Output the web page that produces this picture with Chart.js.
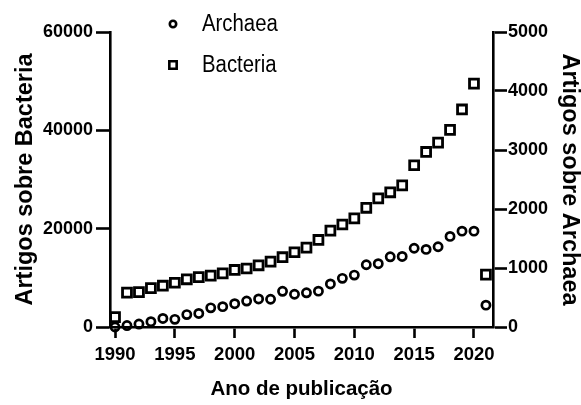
<!DOCTYPE html>
<html>
<head>
<meta charset="utf-8">
<script src="https://cdn.jsdelivr.net/npm/chart.js@4/dist/chart.umd.min.js"></script>
<style>
html,body{margin:0;padding:0;background:#fff;}
#wrap{position:relative;width:581px;height:405px;}
</style>
</head>
<body>
<div id="wrap"><canvas id="c" width="581" height="405"></canvas></div>
<script>
const years = [1990,1991,1992,1993,1994,1995,1996,1997,1998,1999,2000,2001,2002,2003,2004,2005,2006,2007,2008,2009,2010,2011,2012,2013,2014,2015,2016,2017,2018,2019,2020,2021];
const archaea = [0,25,50,90,145,130,210,230,325,345,395,440,475,470,605,555,580,608,730,825,880,1055,1073,1190,1196,1335,1315,1360,1536,1625,1625,370];
const bacteria = [2000,7000,7100,7900,8400,9000,9700,10150,10450,10900,11600,11900,12550,13300,14200,15200,16150,17700,19600,20850,22100,24250,26150,27400,28800,32900,35600,37500,40100,44250,49500,10650];
const xTicks = [1990,1995,2000,2005,2010,2015,2020];
const leftTicks = [0,20000,40000,60000];
const rightTicks = [0,1000,2000,3000,4000,5000];
const seriesLabels = ['Archaea','Bacteria'];
const axisTitles = {x:'Ano de publicação', left:'Artigos sobre Bacteria', right:'Artigos sobre Archaea'};

const FONT = "'Liberation Sans', Arial, sans-serif";
const AXW = 2.6;

const legendPlugin = {
  id: 'insetLegend',
  afterDraw(chart) {
    const ctx = chart.ctx;
    ctx.save();
    const legendMarkers = [{radius: 3.2, borderWidth: 2.6}, {radius: 5.2, borderWidth: 2.6}];
    chart.data.datasets.forEach((ds, i) => {
      const x = 173, y = 24 + i * 41;
      ctx.strokeStyle = '#000';
      ctx.fillStyle = 'rgba(0,0,0,0)';
      ctx.lineWidth = legendMarkers[i].borderWidth;
      Chart.helpers.drawPoint(ctx, {pointStyle: ds.pointStyle, radius: legendMarkers[i].radius, borderWidth: legendMarkers[i].borderWidth, rotation: 0}, x, y);
      ctx.save();
      ctx.translate(202, y + 1);
      ctx.scale(0.885, 1);
      ctx.fillStyle = '#000';
      ctx.font = "23px " + FONT;
      ctx.textBaseline = 'middle';
      ctx.textAlign = 'left';
      ctx.fillText(ds.label, 0, 0);
      ctx.restore();
    });
    ctx.restore();
  }
};

const pts = (arr) => years.map((y, i) => ({x: y, y: arr[i]}));

new Chart(document.getElementById('c'), {
  type: 'scatter',
  data: {
    datasets: [
      {label: seriesLabels[0], data: pts(archaea), yAxisID: 'yR', pointStyle: 'circle', pointRadius: 4.1, borderWidth: 2.7, borderColor: '#000', backgroundColor: 'rgba(0,0,0,0)', clip: false},
      {label: seriesLabels[1], data: pts(bacteria), yAxisID: 'yL', pointStyle: 'rect', pointRadius: 6.3, borderWidth: 2.8, borderColor: '#000', backgroundColor: 'rgba(0,0,0,0)', clip: false}
    ]
  },
  options: {
    responsive: false,
    animation: false,
    devicePixelRatio: 1,
    layout: {padding: {top: 32, left: 0, right: 0, bottom: 0}},
    plugins: {legend: {display: false}, tooltip: {enabled: false}},
    elements: {point: {hoverRadius: 5}},
    scales: {
      x: {
        type: 'linear', position: 'bottom', min: 1989.58, max: 2021.59,
        afterBuildTicks: (s) => { s.ticks = xTicks.map(v => ({value: v})); },
        afterFit: (s) => { s.height = 78; },
        grid: {display: true, drawOnChartArea: false, drawTicks: true, tickLength: 11, tickColor: '#000', tickWidth: AXW},
        border: {display: true, color: '#000', width: AXW},
        ticks: {color: '#000', padding: 6, maxRotation: 0, font: {family: FONT, size: 18.5, weight: 'bold'}, callback: (v) => String(v)},
        title: {display: true, text: axisTitles.x, color: '#000', padding: {top: 0, bottom: 3}, font: {family: FONT, size: 20.5, weight: 'bold'}}
      },
      yL: {
        type: 'linear', position: 'left', min: 0, max: 60000,
        afterBuildTicks: (s) => { s.ticks = leftTicks.map(v => ({value: v})); },
        afterFit: (s) => { s.width = 110; },
        grid: {display: true, drawOnChartArea: false, drawTicks: true, tickLength: 14, tickColor: '#000', tickWidth: AXW},
        border: {display: true, color: '#000', width: AXW},
        ticks: {color: '#000', padding: 3, font: {family: FONT, size: 18, weight: 'bold'}, callback: (v) => String(v)},
        title: {display: true, text: axisTitles.left, color: '#000', padding: {top: 11, bottom: 0}, font: {family: FONT, size: 23.5, weight: 'bold'}}
      },
      yR: {
        type: 'linear', position: 'right', min: 0, max: 5000,
        afterBuildTicks: (s) => { s.ticks = rightTicks.map(v => ({value: v})); },
        afterFit: (s) => { s.width = 88; },
        grid: {display: true, drawOnChartArea: false, drawTicks: true, tickLength: 14, tickColor: '#000', tickWidth: AXW},
        border: {display: true, color: '#000', width: AXW},
        ticks: {color: '#000', padding: 1, font: {family: FONT, size: 18, weight: 'bold'}, callback: (v) => String(v)},
        title: {display: true, text: axisTitles.right, color: '#000', padding: {top: -3, bottom: 0}, font: {family: FONT, size: 23.5, weight: 'bold'}}
      }
    }
  },
  plugins: [legendPlugin]
});
</script>
</body>
</html>
